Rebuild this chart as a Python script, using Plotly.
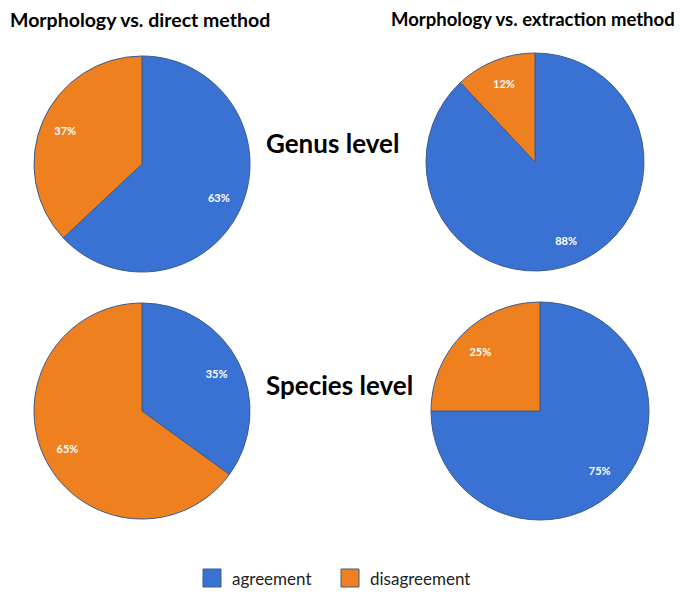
import plotly.graph_objects as go

labels = ["agreement", "disagreement"]
genus_direct = [63, 37]
genus_extraction = [88, 12]
species_direct = [35, 65]
species_extraction = [75, 25]
col_titles = ["Morphology vs. direct method", "Morphology vs. extraction method"]
row_titles = ["Genus level", "Species level"]

# page body has an 8px margin; figure sized to fit the 685x595 window
OFF = 8
W, H = 685 - OFF, 595 - OFF
colors = ["#3a72d4", "#ee801f"]
FONT = "Lato, Open Sans, sans-serif"


def px(x):
    return (x - OFF) / W


def py(y):
    return 1 - (y - OFF) / H


def dom(cx, cy, r):
    return dict(x=[px(cx - r), px(cx + r)], y=[py(cy + r), py(cy - r)])


pies = [
    (genus_direct, dom(142, 164, 108)),
    (genus_extraction, dom(535, 162, 109)),
    (species_direct, dom(142, 411, 108)),
    (species_extraction, dom(540, 411, 109)),
]

fig = go.Figure()
for vals, d in pies:
    # coloured pie
    fig.add_trace(go.Pie(
        labels=labels, values=vals, domain=d, sort=False, direction="clockwise",
        rotation=0, showlegend=False, textinfo="none",
        marker=dict(colors=colors, line=dict(color="#3d5a8c", width=1)),
        hoverinfo="label+percent",
    ))
    # transparent ring carrying the percent labels further out
    fig.add_trace(go.Pie(
        labels=labels, values=vals, domain=d, sort=False, direction="clockwise",
        rotation=0, showlegend=False, hole=0.55, textinfo="percent",
        textposition="inside", insidetextorientation="horizontal",
        textfont=dict(color="white", size=11, family=FONT, weight="bold"),
        marker=dict(colors=["rgba(0,0,0,0)"] * 2, line=dict(width=0)),
        hoverinfo="skip",
    ))

bold = lambda s: dict(size=s, family=FONT, color="black", weight="bold")
annotations = [
    dict(text=col_titles[0], x=px(140), y=py(19), xanchor="center", yanchor="middle",
         showarrow=False, font=bold(19.5), xref="paper", yref="paper"),
    dict(text=col_titles[1], x=px(533), y=py(19), xanchor="center", yanchor="middle",
         showarrow=False, font=bold(18.5), xref="paper", yref="paper"),
    dict(text=row_titles[0], x=px(332), y=py(143), xanchor="center", yanchor="middle",
         showarrow=False, font=bold(26), xref="paper", yref="paper"),
    dict(text=row_titles[1], x=px(339), y=py(385), xanchor="center", yanchor="middle",
         showarrow=False, font=bold(26), xref="paper", yref="paper"),
]

# legend drawn manually (square swatches + labels)
legend_items = [(labels[0], colors[0], 203), (labels[1], colors[1], 341)]
shapes = []
for name, c, x0 in legend_items:
    shapes.append(dict(type="rect", xref="paper", yref="paper",
                       x0=px(x0), x1=px(x0 + 18), y0=py(587), y1=py(569),
                       fillcolor=c, line=dict(color="#3d5a8c", width=1)))
    annotations.append(dict(text=name, x=px(x0 + 27), y=py(578), xanchor="left",
                            yanchor="middle", showarrow=False, xref="paper", yref="paper",
                            font=dict(size=17, family=FONT, color="#222")))

fig.update_layout(
    width=W, height=H, margin=dict(l=0, r=0, t=0, b=0),
    paper_bgcolor="white", plot_bgcolor="white",
    annotations=annotations, shapes=shapes, showlegend=False,
)

fig.write_html("out.html")
